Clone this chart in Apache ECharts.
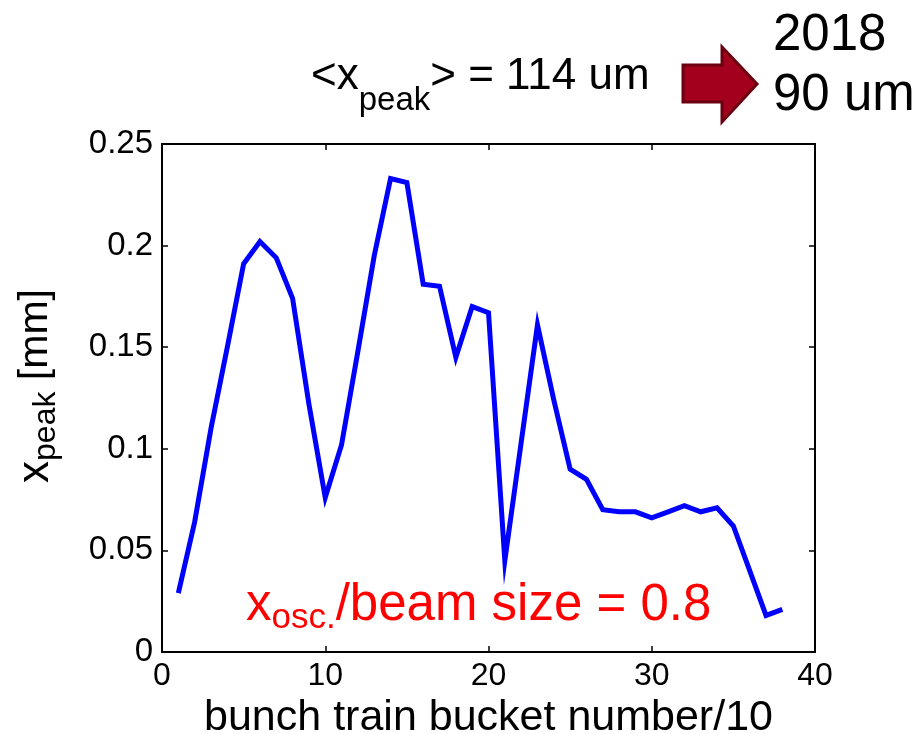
<!DOCTYPE html>
<html><head><meta charset="utf-8">
<script src="https://cdn.jsdelivr.net/npm/echarts@6/dist/echarts.min.js"></script>
<style>html,body{margin:0;padding:0;background:#fff}#c{width:919px;height:734px}</style>
</head><body><div id="c"></div>
<script>
// ---- data ----
const bucket = [1,2,3,4,5,6,7,8,9,10,11,12,13,14,15,16,17,18,19,20,21,22,23,24,25,26,27,28,29,30,31,32,33,34,35,36,37,38];
const xPeak = [0.029,0.064,0.110,0.150,0.191,0.202,0.194,0.174,0.122,0.076,
               0.102,0.148,0.195,0.233,0.231,0.181,0.180,0.145,0.170,0.167,
               0.045,0.103,0.161,0.124,0.090,0.085,0.070,0.069,0.069,0.066,
               0.069,0.072,0.069,0.071,0.062,0.040,0.018,0.021];
const xRange = [0, 40, 10];
const yRange = [0, 0.25, 0.05];
const xTitle = 'bunch train bucket number/10';
const headerText = '{m|<x}{s|peak}{m|> = 114 um}';
const headerRight = '2018\n90 um';
const noteText = '{m|x}{s|osc.}{m|/beam size = 0.8}';

const FONT = '"Liberation Sans", Arial, Helvetica, sans-serif';
const chart = echarts.init(document.getElementById('c'), null, {renderer: 'canvas'});
const fmt = v => String(+(+v).toFixed(2));

const baseX = {
  type: 'value', min: xRange[0], max: xRange[1], interval: xRange[2],
  axisLine: {show: true, onZero: false, lineStyle: {color: '#000', width: 2}},
  axisTick: {show: true, inside: true, length: 6, lineStyle: {color: '#000', width: 1.5}},
  splitLine: {show: false}
};
const baseY = {
  type: 'value', min: yRange[0], max: yRange[1], interval: yRange[2],
  axisLine: {show: true, onZero: false, lineStyle: {color: '#000', width: 2}},
  axisTick: {show: true, inside: true, length: 6, lineStyle: {color: '#000', width: 1.5}},
  splitLine: {show: false}
};

chart.setOption({
  backgroundColor: '#fff',
  animation: false,
  textStyle: {fontFamily: FONT},
  grid: {left: 162, right: 104, top: 144, bottom: 82, containLabel: false, outerBoundsMode: 'none'},
  xAxis: [
    Object.assign({}, baseX, {
      position: 'bottom',
      axisLabel: {show: true, margin: 8, fontSize: 32, color: '#000', fontFamily: FONT},
      name: xTitle, nameLocation: 'middle', nameGap: 43,
      nameTextStyle: {fontSize: 43, color: '#000', fontFamily: FONT}
    }),
    Object.assign({}, baseX, {position: 'top', axisLabel: {show: false}})
  ],
  yAxis: [
    Object.assign({}, baseY, {
      position: 'left',
      axisLabel: {show: true, margin: 9, fontSize: 33, color: '#000', fontFamily: FONT, formatter: fmt},
      name: '{x|x}{s|peak}{m| [mm]}', nameLocation: 'middle', nameGap: 100,
      nameTextStyle: {
        color: '#000', fontFamily: FONT,
        rich: {
          x: {fontSize: 44, lineHeight: 52, verticalAlign: 'middle', color: '#000', fontFamily: FONT, padding: [0, 0, 0, 24]},
          s: {fontSize: 32, lineHeight: 24, verticalAlign: 'bottom', color: '#000', fontFamily: FONT},
          m: {fontSize: 41, lineHeight: 52, verticalAlign: 'middle', color: '#000', fontFamily: FONT}
        }
      }
    }),
    Object.assign({}, baseY, {position: 'right', axisLabel: {show: false}})
  ],
  series: [{
    type: 'line',
    data: bucket.map((b, i) => [b, xPeak[i]]),
    showSymbol: false,
    symbol: 'none',
    lineStyle: {color: '#0000ff', width: 5, join: 'miter'},
    itemStyle: {color: '#0000ff'},
    z: 3
  }],
  graphic: [
    {
      type: 'text', left: 311, top: 55, z: 10,
      style: {
        text: headerText, fill: '#000', fontFamily: FONT,
        rich: {
          m: {fontSize: 44, lineHeight: 80, verticalAlign: 'middle', fill: '#000', fontFamily: FONT},
          s: {fontSize: 33, lineHeight: 37, verticalAlign: 'bottom', fill: '#000', fontFamily: FONT}
        }
      }
    },
    {
      type: 'polygon', z: 10,
      shape: {points: [[683,65],[722,65],[722,47],[757,84],[722,122],[722,102],[683,102]]},
      style: {fill: '#a3001e', stroke: '#6a0010', lineWidth: 3}
    },
    {
      type: 'text', left: 773, top: 6, z: 10,
      style: {text: headerRight, fill: '#000', fontFamily: FONT, fontSize: 51, lineHeight: 60}
    },
    {
      type: 'text', left: 246, top: 580, z: 10,
      style: {
        text: noteText, fill: '#ff0000', fontFamily: FONT,
        rich: {
          m: {fontSize: 51, lineHeight: 60, verticalAlign: 'middle', fill: '#ff0000', fontFamily: FONT},
          s: {fontSize: 35, lineHeight: 30, verticalAlign: 'bottom', fill: '#ff0000', fontFamily: FONT}
        }
      }
    }
  ]
});
</script>
</body></html>
